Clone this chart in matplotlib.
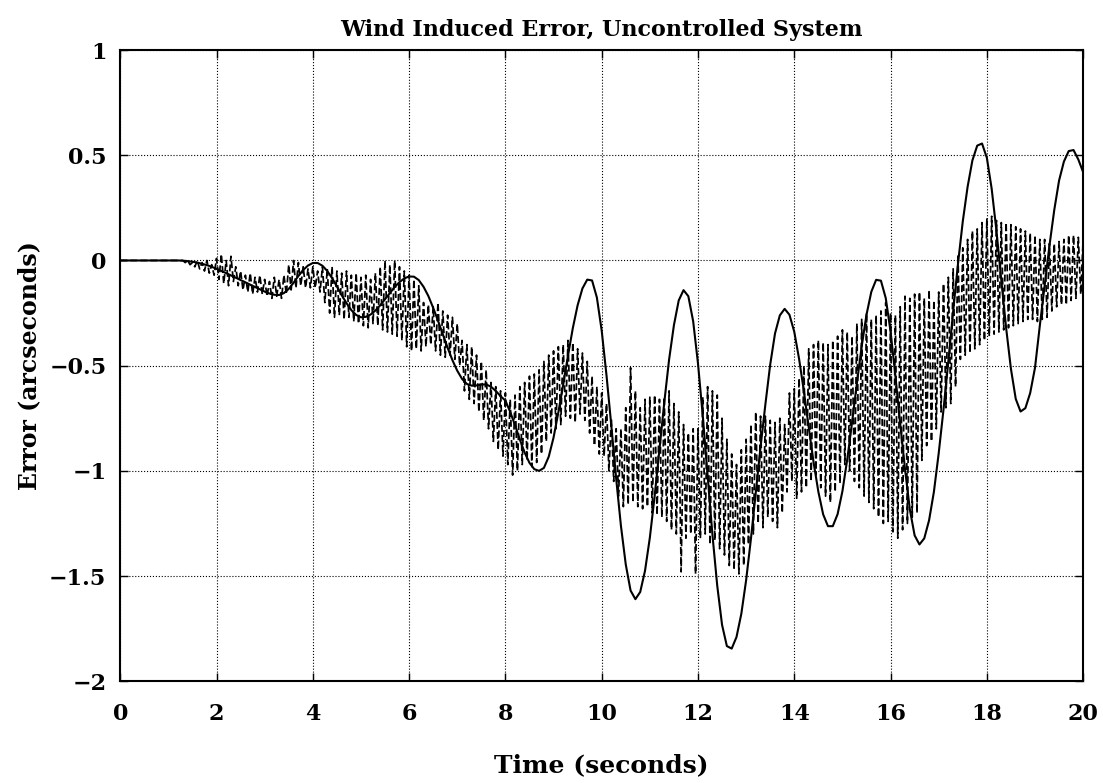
import numpy as np
import matplotlib
matplotlib.use('Agg')
import matplotlib.pyplot as plt

plt.rcParams['font.family'] = ['DejaVu Serif']

# time bases
t = np.linspace(0, 20, 201)       # solid curve, 0.1 s steps
t_fast = np.linspace(0, 20, 401)  # dashed curve, 0.05 s steps

# solid curve (rows = one second each)
err_solid = [
    0, 0, 0, 0, 0, 0, 0, 0, 0, 0,
    0, 0, 0, -0.001, -0.003, -0.006, -0.010, -0.016, -0.022, -0.030,
    -0.040, -0.050, -0.060, -0.071, -0.082, -0.093, -0.104, -0.115, -0.126, -0.137,
    -0.148, -0.157, -0.163, -0.164, -0.155, -0.135, -0.106, -0.074, -0.045, -0.024,
    -0.012, -0.012, -0.025, -0.050, -0.084, -0.123, -0.165, -0.203, -0.236, -0.259,
    -0.270, -0.268, -0.257, -0.238, -0.213, -0.184, -0.155, -0.126, -0.103, -0.085,
    -0.076, -0.077, -0.093, -0.125, -0.169, -0.225, -0.286, -0.351, -0.415, -0.474,
    -0.524, -0.563, -0.587, -0.595, -0.594, -0.590, -0.589, -0.600, -0.620, -0.645,
    -0.666, -0.720, -0.783, -0.851, -0.913, -0.962, -0.992, -1.000, -0.986, -0.933,
    -0.842, -0.722, -0.591, -0.453, -0.322, -0.213, -0.133, -0.091, -0.095, -0.176,
    -0.333, -0.546, -0.785, -1.035, -1.262, -1.445, -1.569, -1.610, -1.576, -1.475,
    -1.318, -1.120, -0.898, -0.675, -0.471, -0.308, -0.190, -0.141, -0.170, -0.289,
    -0.489, -0.740, -1.024, -1.303, -1.546, -1.732, -1.833, -1.845, -1.790, -1.680,
    -1.520, -1.323, -1.106, -0.886, -0.684, -0.495, -0.347, -0.261, -0.230, -0.258,
    -0.339, -0.468, -0.622, -0.793, -0.958, -1.099, -1.207, -1.263, -1.263, -1.206,
    -1.097, -0.946, -0.770, -0.585, -0.409, -0.258, -0.149, -0.092, -0.096, -0.179,
    -0.337, -0.548, -0.776, -0.991, -1.183, -1.307, -1.350, -1.321, -1.235, -1.100,
    -0.916, -0.708, -0.479, -0.242, -0.017, 0.186, 0.350, 0.476, 0.546, 0.556,
    0.488, 0.341, 0.140, -0.093, -0.320, -0.515, -0.658, -0.718, -0.702, -0.630,
    -0.510, -0.310, -0.120, 0.070, 0.240, 0.380, 0.470, 0.520, 0.525, 0.480,
    0.420,
]

# dashed curve, fast oscillation (peak / trough pairs, one row per second)
err_dashed = [
    0, 0, 0, 0, 0, 0, 0, 0, 0, 0, 0, 0, 0, 0, 0, 0, 0, 0, 0, 0,
    0, 0, 0, 0, 0, 0, 0, -0.01, 0, -0.02, -0.01, -0.03, 0, -0.04, -0.01, -0.05, 0, -0.06, -0.02, -0.07,
    0.01, -0.09, 0.03, -0.11, 0.0, -0.12, 0.02, -0.10, -0.03, -0.12, -0.05, -0.14, -0.07, -0.15, -0.06, -0.16, -0.08, -0.15, -0.07, -0.16,
    -0.09, -0.17, -0.10, -0.18, -0.08, -0.17, -0.09, -0.18, -0.07, -0.16, -0.02, -0.14, 0.0, -0.13, -0.01, -0.12, -0.03, -0.13, -0.04, -0.13,
    -0.03, -0.13, -0.05, -0.15, -0.03, -0.20, -0.04, -0.25, -0.03, -0.27, -0.05, -0.26, -0.06, -0.28, -0.05, -0.27, -0.07, -0.29, -0.06, -0.30,
    -0.08, -0.31, -0.07, -0.32, -0.09, -0.30, -0.06, -0.31, -0.03, -0.33, 0.0, -0.34, -0.02, -0.35, 0.0, -0.36, -0.03, -0.38, -0.05, -0.41,
    -0.07, -0.43, -0.09, -0.42, -0.12, -0.43, -0.20, -0.41, -0.21, -0.40, -0.22, -0.43, -0.20, -0.45, -0.24, -0.46, -0.26, -0.45, -0.27, -0.47,
    -0.30, -0.50, -0.38, -0.62, -0.40, -0.66, -0.41, -0.68, -0.45, -0.72, -0.48, -0.76, -0.52, -0.80, -0.58, -0.86, -0.60, -0.90, -0.62, -0.93,
    -0.63, -0.97, -0.66, -1.02, -0.64, -1.00, -0.60, -0.97, -0.58, -0.95, -0.55, -0.98, -0.54, -0.96, -0.52, -0.92, -0.48, -0.86, -0.45, -0.82,
    -0.43, -0.80, -0.41, -0.78, -0.40, -0.74, -0.38, -0.75, -0.39, -0.77, -0.42, -0.73, -0.44, -0.76, -0.48, -0.82, -0.55, -0.88, -0.60, -0.92,
    -0.63, -0.93, -0.68, -1.00, -0.75, -1.05, -0.80, -1.12, -0.80, -1.17, -0.70, -1.16, -0.51, -1.15, -0.62, -1.17, -0.70, -1.18, -0.66, -1.17,
    -0.65, -1.20, -0.64, -1.21, -0.66, -1.22, -0.65, -1.24, -0.62, -1.28, -0.68, -1.30, -0.72, -1.48, -0.78, -1.32, -0.82, -1.30, -0.80, -1.49,
    -0.80, -1.32, -0.65, -1.30, -0.60, -1.35, -0.62, -1.33, -0.64, -1.37, -0.75, -1.40, -0.85, -1.45, -0.92, -1.47, -0.97, -1.49, -0.90, -1.45,
    -0.85, -1.35, -0.78, -1.30, -0.72, -1.25, -0.74, -1.27, -0.74, -1.22, -0.76, -1.24, -0.77, -1.27, -0.75, -1.20, -0.78, -1.10, -0.63, -1.05,
    -0.61, -1.13, -0.56, -1.10, -0.50, -1.08, -0.42, -1.05, -0.40, -1.02, -0.38, -1.08, -0.39, -1.12, -0.40, -1.15, -0.38, -1.10, -0.36, -1.06,
    -0.33, -0.97, -0.34, -1.00, -0.36, -1.05, -0.30, -1.08, -0.28, -1.12, -0.25, -1.15, -0.28, -1.18, -0.26, -1.22, -0.24, -1.25, -0.20, -1.24,
    -0.25, -1.29, -0.26, -1.32, -0.22, -1.28, -0.17, -1.25, -0.18, -1.22, -0.16, -1.20, -0.15, -0.95, -0.18, -0.88, -0.14, -0.86, -0.19, -0.80,
    -0.15, -0.72, -0.11, -0.70, -0.08, -0.68, -0.04, -0.60, 0.03, -0.47, 0.06, -0.45, 0.10, -0.44, 0.14, -0.42, 0.15, -0.40, 0.18, -0.38,
    0.20, -0.36, 0.21, -0.35, 0.19, -0.34, 0.18, -0.33, 0.18, -0.32, 0.17, -0.31, 0.16, -0.30, 0.15, -0.29, 0.14, -0.28, 0.13, -0.28,
    0.12, -0.29, 0.10, -0.28, 0.10, -0.27, 0.08, -0.24, 0.08, -0.22, 0.09, -0.21, 0.10, -0.21, 0.12, -0.19, 0.12, -0.18, 0.11, -0.16,
    0.10,
]

xticks = [0, 2, 4, 6, 8, 10, 12, 14, 16, 18, 20]
yticks = [-2, -1.5, -1, -0.5, 0, 0.5, 1]
ytick_labels = ['\u22122', '\u22121.5', '\u22121', '\u22120.5', '0', '0.5', '1']

fig = plt.figure(figsize=(11.03, 7.83), dpi=100)
ax = fig.add_axes([0.109, 0.130, 0.873, 0.806])

ax.plot(t, err_solid, color='black', linewidth=1.5)
ax.plot(t_fast, err_dashed, color='black', linewidth=1.25, linestyle=(0, (4, 1.8)))

ax.set_xlim(0, 20)
ax.set_ylim(-2, 1)
ax.set_xticks(xticks)
ax.set_xticklabels([str(v) for v in xticks])
ax.set_yticks(yticks)
ax.set_yticklabels(ytick_labels)

ax.grid(True, linestyle=':', color='black', linewidth=0.8)
ax.tick_params(direction='in', top=True, right=True, length=6, width=1,
               labelsize=16)
ax.tick_params(axis='x', pad=16)
ax.tick_params(axis='y', pad=10)
for lab in ax.get_xticklabels() + ax.get_yticklabels():
    lab.set_fontweight('bold')
for s in ax.spines.values():
    s.set_linewidth(1.5)

ax.set_title('Wind Induced Error, Uncontrolled System', fontsize=16,
             fontweight='bold', pad=10)
ax.set_xlabel('Time (seconds)', fontsize=18, fontweight='bold', labelpad=20)
ax.set_ylabel('Error (arcseconds)', fontsize=17, fontweight='bold', labelpad=6)

fig.savefig('out.png', dpi=100)
